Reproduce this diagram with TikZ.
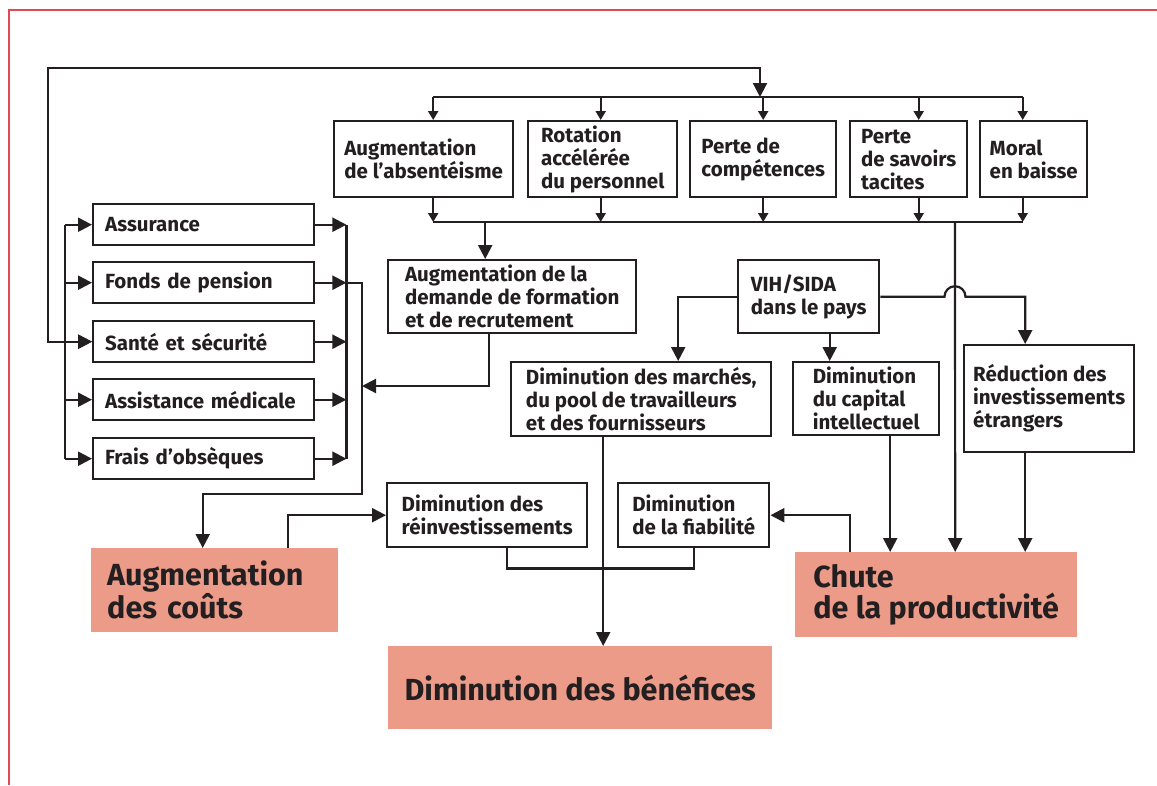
\documentclass[tikz,border=0pt]{standalone}
\usepackage{fontspec}
\setmainfont{Fira Sans}
\usetikzlibrary{arrows.meta}
\definecolor{ink}{RGB}{35,31,32}
\definecolor{salmon}{RGB}{237,155,137}
\definecolor{framered}{RGB}{228,72,82}
\newcommand\cellfont{\bfseries\fontsize{20.5}{23}\selectfont}
\newcommand\resultfont{\bfseries\fontsize{30.5}{30.5}\selectfont}

\begin{document}
\begin{tikzpicture}[x=1pt, y=-1pt]
    \tikzset{cell/.style 2 args={draw=ink, line width=2.4pt, fill=white, anchor=north west, align=left, inner sep=0pt, minimum width=#1, minimum height=#2, font=\cellfont, text=ink},
      costitem/.style={cell={221pt}{41pt}, text width=197pt},
      result/.style 2 args={fill=salmon, anchor=north west, align=left, inner sep=0pt, minimum width=#1, minimum height=#2, font=\resultfont, text=ink},
      link/.style={draw=ink, line width=2.2pt},
      small tip/.style={>={Triangle[length=9pt, width=10pt]}},
      >={Triangle[length=14pt, width=14pt]}}
    \useasboundingbox (0,0) rectangle (1157,785);
    \draw[framered, line width=1.6pt] (9,785) -- (9,10) -- (1157,10);

    \node[cell={179pt}{76pt}] (abs) at (333,120) {Augmentation\\de l’absentéisme};
    \node[cell={149pt}{76pt}] (rot) at (527,120) {Rotation\\accélérée\\du personnel};
    \node[cell={146pt}{76pt}] (comp) at (689,120) {Perte de\\compétences};
    \node[cell={117pt}{76pt}] (sav) at (849,120) {Perte\\de savoirs\\tacites};
    \node[cell={107pt}{76pt}] (mor) at (979,120) {Moral\\en baisse};

    \node[costitem] (ass) at (92,203) {Assurance};
    \node[costitem] (fon) at (92,261) {Fonds de pension};
    \node[costitem] (san) at (92,320) {Santé et sécurité};
    \node[costitem] (med) at (92,378) {Assistance médicale};
    \node[costitem] (fra) at (92,437) {Frais d’obsèques};

    \node[cell={248pt}{73pt}] (dem) at (387,259) {Augmentation de la\\demande de formation\\et de recrutement};
    \node[cell={141pt}{73pt}] (vih) at (737,259) {VIH/SIDA\\dans le pays};
    \node[cell={260pt}{74pt}] (mar) at (510,361) {Diminution des marchés,\\du pool de travailleurs\\et des fournisseurs};
    \node[cell={146pt}{73pt}] (cap) at (792,361) {Diminution\\du capital\\intellectuel};
    \node[cell={170pt}{107pt}] (inv) at (963,344) {Réduction des\\investissements\\étrangers};
    \node[cell={200pt}{64pt}] (reinv) at (386,482) {Diminution des\\réinvestissements};
    \node[cell={151pt}{64pt}] (fiab) at (617,482) {Diminution\\de la fiabilité};

    \node[result={247pt}{84pt}, text width=215pt] (couts) at (91,548) {Augmentation\\des coûts};
    \node[result={384pt}{83pt}] (benef) at (388,646) {Diminution des bénéfices};
    \node[result={282pt}{85pt}] (chute) at (795,552) {Chute\\de la productivité};

    \coordinate (topbus) at (760,97);
    \coordinate (lowbus) at (955,222);
    \coordinate (costbend) at (362,494);
    \coordinate (costin) at (362,386);

    \draw[link] ([xshift=9.5pt]abs.north |- topbus) -- ([xshift=-11pt]mor.north |- topbus);
    \draw[link] ([xshift=9.5pt]abs.south |- lowbus) -- ([xshift=-11pt]mor.south |- lowbus);
    \foreach \n/\s in {abs/9.5, rot/-2, comp/0, sav/10, mor/-11}{
      \draw[link, small tip, ->] ([xshift=\s pt]\n.north |- topbus) -- ([xshift=\s pt]\n.north);
      \draw[link, small tip, ->] ([xshift=\s pt]\n.south) -- ([xshift=\s pt]\n.south |- lowbus);
    }
    \draw[link, <->] (san.west) -- ++(-44,0) |- ([yshift=29pt]topbus) -- (topbus);

    \draw[link] ([xshift=-27pt]ass.west) -- ([xshift=-27pt]fra.west);
    \draw[link] ([xshift=31pt]ass.east) -- ([xshift=31pt]fra.east);
    \foreach \n in {ass, fon, san, med, fra}{
      \draw[link, ->] ([xshift=-27pt]\n.west) -- (\n.west);
      \draw[link, ->] (\n.east) -- ++(31,0);
    }
    \draw[link, ->] ([xshift=31pt]fon.east) -| (costbend) -| ([xshift=-12pt]couts.north);
    \draw[link, ->] ([xshift=-23pt]dem.south) |- (costin);
    \draw[link, ->] ([xshift=-27pt]dem.north |- lowbus) -- ([xshift=-27pt]dem.north);
    \draw[link, ->] (lowbus) -- ([xshift=19pt]chute.north);

    \draw[link, ->] (vih.west) -| ([xshift=37pt]mar.north);
    \draw[link, ->] ([xshift=21pt]vih.south) -- ([xshift=21pt]vih.south |- cap.north);
    \draw[link, ->] (vih.east) -- ([xshift=-10.5pt]vih.east -| lowbus) arc[start angle=180, end angle=0, radius=10.5pt] -| ([xshift=-24pt]inv.north);

    \draw[link, ->] ([xshift=-38pt]mar.south) -- ([xshift=-38pt]mar.south |- benef.north);
    \draw[link, ->] ([xshift=24pt]cap.south) -- ([xshift=24pt]cap.south |- chute.north);
    \draw[link, ->] ([xshift=-24pt]inv.south) -- ([xshift=-24pt]inv.south |- chute.north);

    \draw[link, ->] ([xshift=73pt]couts.north) |- (reinv.west);
    \draw[link, ->] ([xshift=-86pt]chute.north) |- (fiab.east);
    \draw[link] ([xshift=20pt]reinv.south) -- ++(0,20) -| (fiab.south);
  \end{tikzpicture}
\end{document}
